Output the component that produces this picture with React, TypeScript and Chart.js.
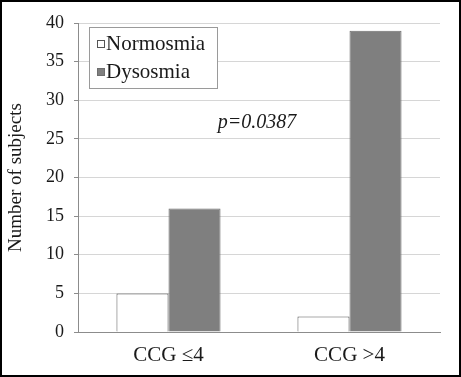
import React, { useEffect, useRef } from "react";
import { Chart, registerables } from "chart.js";

Chart.register(...registerables);

const categories = ["CCG \u22644", "CCG >4"];
const seriesNames = ["Normosmia", "Dysosmia"];
const normosmia = [5, 2];
const dysosmia = [16, 39];
const yTicks = [0, 5, 10, 15, 20, 25, 30, 35, 40];
const yTitle = "Number of subjects";
const pText = "p=0.0387";

const FONT = "'Liberation Serif', 'Times New Roman', serif";

const overlayPlugin = {
  id: "overlay",
  afterDraw(chart: any) {
    const ctx = chart.ctx;
    const area = chart.chartArea;
    ctx.save();
    // legend box
    const lx = area.left + 11;
    const ly = area.top + 4;
    const lw = 128;
    const lh = 61;
    ctx.fillStyle = "#ffffff";
    ctx.fillRect(lx, ly, lw, lh);
    ctx.strokeStyle = "#9a9a9a";
    ctx.lineWidth = 1;
    ctx.strokeRect(lx + 0.5, ly + 0.5, lw, lh);
    ctx.font = `21px ${FONT}`;
    ctx.textBaseline = "middle";
    ctx.textAlign = "left";
    chart.data.datasets.forEach((ds: any, i: number) => {
      const cy = ly + 17 + i * 28;
      ctx.fillStyle = ds.backgroundColor;
      ctx.fillRect(lx + 8, cy - 4, 8, 8);
      ctx.strokeStyle = ds.borderColor;
      ctx.strokeRect(lx + 8.5, cy - 3.5, 7, 7);
      ctx.fillStyle = "#1a1a1a";
      ctx.fillText(ds.label, lx + 17, cy);
    });
    // p-value
    ctx.font = `italic 20px ${FONT}`;
    ctx.textAlign = "center";
    ctx.fillStyle = "#1a1a1a";
    const ys = chart.scales.y;
    ctx.fillText(pText, (area.left + area.right) / 2 - 2, ys.getPixelForValue(27.1));
    ctx.restore();
  },
};

export default function App() {
  const ref = useRef<HTMLCanvasElement>(null);
  useEffect(() => {
    document.body.style.margin = "0";
    const chart = new Chart(ref.current!, {
      type: "bar",
      data: {
        labels: categories,
        datasets: [
          {
            label: seriesNames[0],
            data: normosmia,
            backgroundColor: "#ffffff",
            borderColor: "#555555",
            borderWidth: 1,
            categoryPercentage: 0.575,
            barPercentage: 1,
          },
          {
            label: seriesNames[1],
            data: dysosmia,
            backgroundColor: "#7f7f7f",
            borderColor: "#6e6e6e",
            borderWidth: 1,
            categoryPercentage: 0.575,
            barPercentage: 1,
          },
        ],
      },
      options: {
        animation: false,
        responsive: false,
        maintainAspectRatio: false,
        layout: { padding: { top: 21, right: 19, left: 3, bottom: 0 } },
        plugins: {
          legend: { display: false },
          tooltip: { enabled: false },
        },
        scales: {
          x: {
            afterFit: (s: any) => {
              s.height = 43;
            },
            grid: { display: false, drawTicks: false },
            border: { color: "#8c8c8c", width: 1 },
            ticks: { font: { family: FONT, size: 21 }, color: "#1a1a1a", padding: 11 },
          },
          y: {
            min: 0,
            max: 40,
            afterBuildTicks: (s: any) => {
              s.ticks = yTicks.map((v) => ({ value: v }));
            },
            afterFit: (s: any) => {
              s.width = 73;
            },
            grid: { color: "#d6d6d6", tickLength: 4, tickColor: "#8c8c8c" },
            border: { color: "#8c8c8c", width: 1 },
            ticks: { font: { family: FONT, size: 18 }, color: "#1a1a1a", padding: 10 },
            title: {
              display: true,
              text: yTitle,
              font: { family: FONT, size: 19 },
              color: "#1a1a1a",
              padding: { top: 0, bottom: 8 },
            },
          },
        },
      },
      plugins: [overlayPlugin],
    });
    return () => chart.destroy();
  }, []);
  return (
    <div
      style={{
        position: "absolute",
        left: 0,
        top: 0,
        width: 461,
        height: 377,
        boxSizing: "border-box",
        border: "2px solid #000",
        background: "#fff",
      }}
    >
      <canvas ref={ref} width={457} height={373} style={{ display: "block" }} />
    </div>
  );
}
